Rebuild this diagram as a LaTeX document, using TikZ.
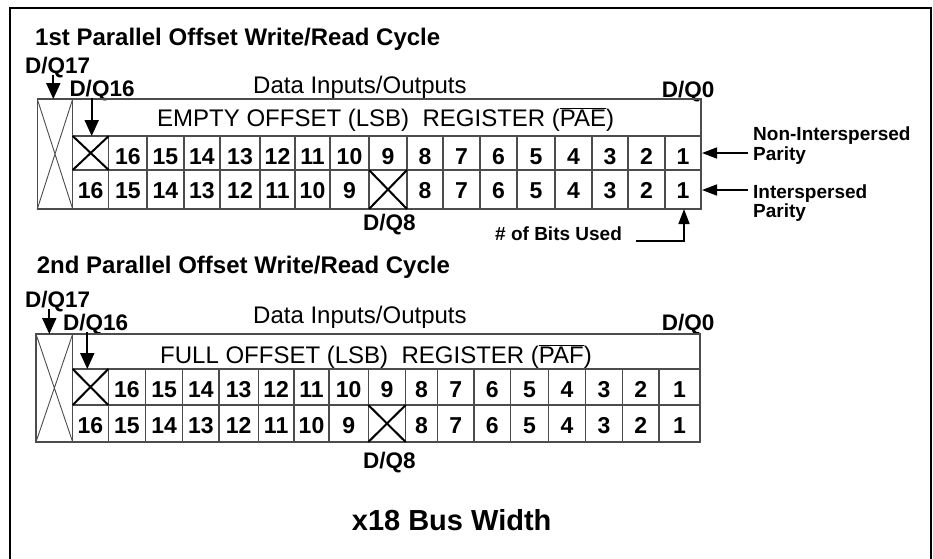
\documentclass[tikz,border=0pt]{standalone}
\usepackage{fontspec}
\setmainfont{Liberation Sans}
\usetikzlibrary{arrows.meta}

\begin{document}
\begin{tikzpicture}[x=1pt,y=-1pt]
\tikzset{GridStyle/.style={line width=1.2pt,draw=black!70},
  ThinCross/.style={line width=0.9pt,draw=black!70},
  CrossStyle/.style={line width=2pt},
  ArrowStyle/.style={line width=2pt,-{Triangle[length=16pt,width=14pt]}},
  SideArrow/.style={line width=1.6pt,-{Triangle[length=15pt,width=11pt]}},
  TitleStyle/.style={anchor=base west,inner sep=0pt,font=\fontsize{24}{28}\selectfont\bfseries},
  PinStyle/.style={anchor=base west,inner sep=0pt,font=\fontsize{22.5}{26}\selectfont\bfseries},
  PlainStyle/.style={anchor=base west,inner sep=0pt,font=\fontsize{24}{28}\selectfont},
  NoteStyle/.style={anchor=base west,inner sep=0pt,font=\fontsize{19}{20}\selectfont\bfseries},
  NumStyle/.style={anchor=base,inner sep=0pt,font=\fontsize{23}{26}\selectfont\bfseries}}
\useasboundingbox (0,0) rectangle (933,558);
\draw[line width=2pt] (9.5,570) -- (9.5,8) -- (930.5,8) -- (930.5,570);

% 1st cycle
\node[TitleStyle] (t1) at (35,45) {1st Parallel Offset Write/Read Cycle};
\node[PinStyle] (q17a) at (25,73.3) {D/Q17};
\node[PinStyle] (q16a) at (69.3,96) {D/Q16};
\node[PlainStyle] (dio1) at (253,93) {Data Inputs/Outputs};
\node[PinStyle] (q0a) at (661.7,97) {D/Q0};
\node[PlainStyle] (reg1) at (157,126) {EMPTY OFFSET (LSB)\ \ REGISTER ($\overline{\hbox{PAE}}$)};
\draw[GridStyle] (37.3,99) rectangle (701,209);
\draw[GridStyle] (72.7,99) -- (72.7,209) (72.7,136) -- (701,136) (72.7,170) -- (701,170);
\draw[ThinCross] (37.3,99) -- (72.7,209) (72.7,99) -- (37.3,209);
\foreach \x [count=\i, remember=\x as \px (initially 72.7)] in
  {108.7,147,184,220,260,295,330,369,407,443,480,517,555,592,628,665,701}{
  \draw[GridStyle] (\x,136) -- (\x,209);
  \ifnum\i=1
    \draw[CrossStyle] (\px,136) -- (\x,170) (\x,136) -- (\px,170);
  \else
    \pgfmathtruncatemacro{\n}{18-\i}
    \node[NumStyle] (n1a\i) at ({(\px+\x)/2},164) {\n};
  \fi
  \ifnum\i=9
    \draw[CrossStyle] (\px,170) -- (\x,209) (\x,170) -- (\px,209);
  \else
    \pgfmathtruncatemacro{\n}{\i<9 ? 17-\i : 18-\i}
    \node[NumStyle] (n1b\i) at ({(\px+\x)/2},198.5) {\n};
  \fi
}
\coordinate (top17a) at (53.3,99);
\coordinate (top16a) at (91.7,136);
\draw[ArrowStyle] ([yshift=-2pt]q17a.base -| top17a) -- (top17a);
\draw[ArrowStyle] ([yshift=-2pt]q16a.base -| top16a) -- (top16a);
\node[PinStyle] (q8a) at (363,230) {D/Q8};
\node[NoteStyle] (nip1) at (753,140) {Non-Interspersed};
\node[NoteStyle] (nip2) at (753,160) {Parity};
\node[NoteStyle] (ip1) at (753,198) {Interspersed};
\node[NoteStyle] (ip2) at (753,217) {Parity};
\coordinate (nipin) at (702,153);
\coordinate (ipin) at (702,190);
\draw[SideArrow] (nipin -| nip1.west) ++(-5,0) -- (nipin);
\draw[SideArrow] (ipin -| ip1.west) ++(-5,0) -- (ipin);
\node[NoteStyle] (bits) at (495,240) {\# of Bits Used};
\coordinate (bitsin) at (684,209);
\draw[SideArrow] ([xshift=14pt,yshift=-1pt]bits.base east) -| (bitsin);

% 2nd cycle
\node[TitleStyle] (t2) at (36.7,273) {2nd Parallel Offset Write/Read Cycle};
\node[PinStyle] (q17b) at (25,307) {D/Q17};
\node[PinStyle] (q16b) at (63,330) {D/Q16};
\node[PlainStyle] (dio2) at (253,323) {Data Inputs/Outputs};
\node[PinStyle] (q0b) at (661.7,330) {D/Q0};
\node[PlainStyle] (reg2) at (160,363) {FULL OFFSET (LSB)\ \ REGISTER ($\overline{\hbox{PAF}}$)};
\draw[GridStyle] (36,334) rectangle (700,442);
\draw[GridStyle] (72.7,334) -- (72.7,442) (72.7,369) -- (700,369) (72.7,405) -- (700,405);
\draw[ThinCross] (36,334) -- (72.7,442) (72.7,334) -- (36,442);
\foreach \x [count=\i, remember=\x as \px (initially 72.7)] in
  {108.3,145.7,182.7,219,258.3,294,329,368.3,405.7,437.3,474,510.7,548.3,585.7,622.3,659,700}{
  \draw[GridStyle] (\x,369) -- (\x,442);
  \ifnum\i=1
    \draw[CrossStyle] (\px,369) -- (\x,405) (\x,369) -- (\px,405);
  \else
    \pgfmathtruncatemacro{\n}{18-\i}
    \node[NumStyle] (n2a\i) at ({(\px+\x)/2},397.5) {\n};
  \fi
  \ifnum\i=9
    \draw[CrossStyle] (\px,405) -- (\x,442) (\x,405) -- (\px,442);
  \else
    \pgfmathtruncatemacro{\n}{\i<9 ? 17-\i : 18-\i}
    \node[NumStyle] (n2b\i) at ({(\px+\x)/2},433.5) {\n};
  \fi
}
\coordinate (top17b) at (49.3,334);
\coordinate (top16b) at (87.3,369);
\draw[ArrowStyle] ([yshift=-2pt]q17b.base -| top17b) -- (top17b);
\draw[ArrowStyle] ([yshift=-2pt]q16b.base -| top16b) -- (top16b);
\node[PinStyle] (q8b) at (363,468) {D/Q8};
\node[TitleStyle,font=\fontsize{29}{32}\selectfont\bfseries] (bus) at (351.7,530.7) {x18 Bus Width};
\end{tikzpicture}
\end{document}
